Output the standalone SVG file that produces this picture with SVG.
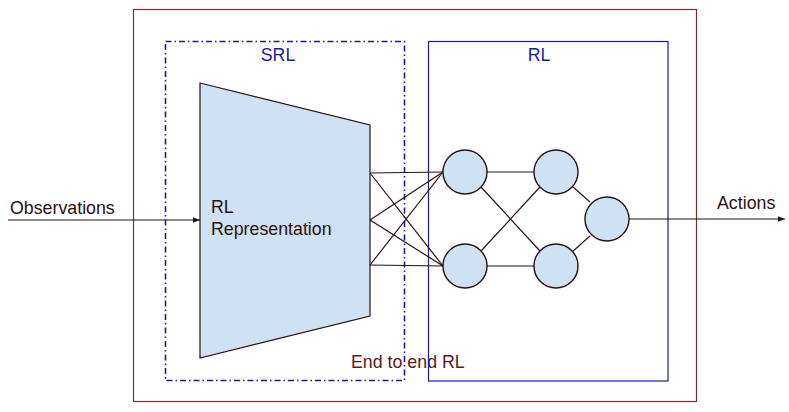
<svg xmlns="http://www.w3.org/2000/svg" width="789" height="412" viewBox="0 0 789 412">
<defs>
<style>
text{font-family:"Liberation Sans",Arial,sans-serif;font-size:17.8px}
.conn{stroke:#2a1010;stroke-width:1.2;fill:none}
.neuron{fill:#cfe2f3;stroke:#2a1010;stroke-width:1.4}
.blue{fill:#1a1aa0}
.dark{fill:#2a1010}
</style>
<marker id="arr" viewBox="0 0 10 10" refX="10" refY="5" markerWidth="7" markerHeight="7" orient="auto" markerUnits="userSpaceOnUse">
<path d="M0,1 L10,5 L0,9 z" fill="#2a1010"/>
</marker>
</defs>
<rect width="789" height="412" fill="#fff"/>
<g id="end-to-end">
<rect x="133.5" y="9.5" width="563" height="392" fill="none" stroke="#7a3030" stroke-width="1.2"/>
<text x="351" y="368" fill="#5a1a1a">End to end RL</text>
</g>
<g id="srl-box">
<rect x="165.5" y="41.5" width="239" height="339" fill="none" stroke="#1a1aa0" stroke-width="1.6" stroke-dasharray="6,3,1.5,3"/>
<text x="278" y="61" text-anchor="middle" class="blue">SRL</text>
</g>
<g id="rl-box">
<rect x="428.5" y="41.5" width="239.5" height="339.5" fill="none" stroke="#1a1aa0" stroke-width="1.2"/>
<text x="539" y="61" text-anchor="middle" class="blue">RL</text>
</g>
<g id="representation">
<polygon points="200,83 370,125 370,316 200,358" fill="#cfe2f3" stroke="#2a1010" stroke-width="1.2"/>
<text x="211" y="213" class="dark">RL</text>
<text x="211" y="235" class="dark">Representation</text>
</g>
<g id="connectors">
<line class="conn" x1="8" y1="220" x2="200" y2="220" marker-end="url(#arr)"/>
<line class="conn" x1="370" y1="173" x2="443" y2="172"/>
<line class="conn" x1="370" y1="173" x2="443" y2="266"/>
<line class="conn" x1="370" y1="220" x2="443" y2="172"/>
<line class="conn" x1="370" y1="220" x2="443" y2="266"/>
<line class="conn" x1="370" y1="265" x2="443" y2="172"/>
<line class="conn" x1="370" y1="265" x2="443" y2="266"/>
<line class="conn" x1="487" y1="172" x2="534" y2="172"/>
<line class="conn" x1="481" y1="187" x2="540" y2="251"/>
<line class="conn" x1="481" y1="251" x2="540" y2="187"/>
<line class="conn" x1="487" y1="266" x2="534" y2="266"/>
<line class="conn" x1="572" y1="186" x2="590" y2="202"/>
<line class="conn" x1="572" y1="252" x2="590" y2="236"/>
<line class="conn" x1="629" y1="219" x2="785" y2="219" marker-end="url(#arr)"/>
</g>
<g id="n1"><circle class="neuron" cx="465" cy="172" r="22"/></g>
<g id="n2"><circle class="neuron" cx="465" cy="266" r="22"/></g>
<g id="n3"><circle class="neuron" cx="556" cy="172" r="22"/></g>
<g id="n4"><circle class="neuron" cx="556" cy="266" r="22"/></g>
<g id="n5"><circle class="neuron" cx="607" cy="219" r="22"/></g>
<g id="labels">
<text x="10" y="214" class="dark">Observations</text>
<text x="717" y="209" class="dark">Actions</text>
</g>
</svg>
